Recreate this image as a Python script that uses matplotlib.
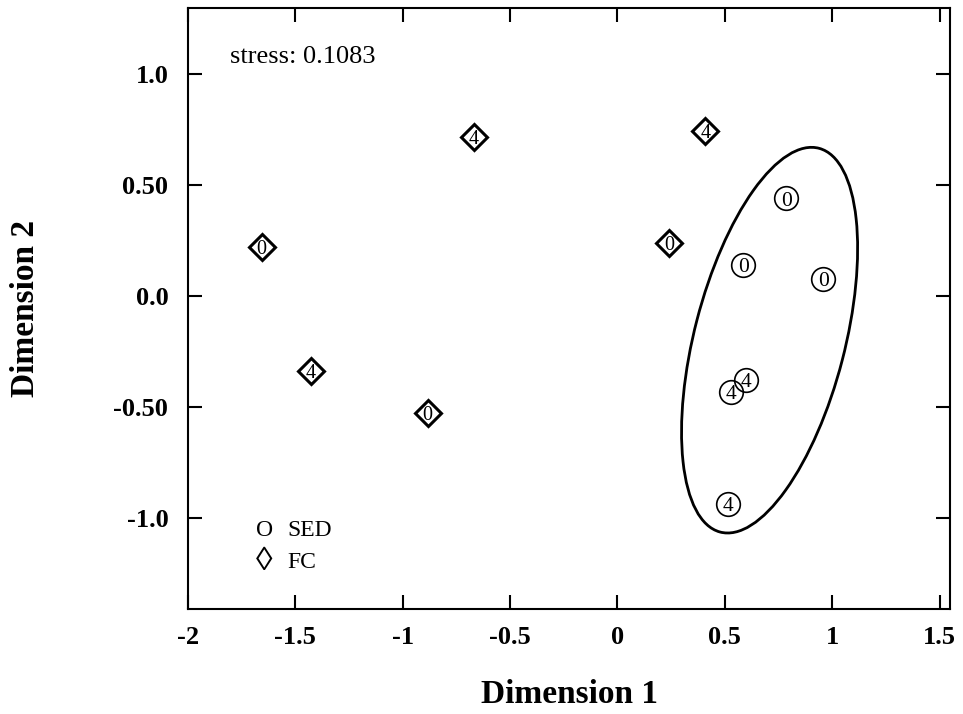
import matplotlib
matplotlib.use("Agg")
import matplotlib.pyplot as plt
from matplotlib.patches import Ellipse

plt.rcParams['font.family'] = ['Liberation Serif', 'DejaVu Serif']

# FC group (diamonds)
fc_x = [-1.656, -1.428, -0.884, -0.670, 0.242, 0.409]
fc_y = [0.220, -0.338, -0.527, 0.716, 0.239, 0.743]
fc_lab = ["0", "4", "0", "4", "0", "4"]

# SED group (circles)
sed_x = [0.786, 0.586, 0.958, 0.600, 0.530, 0.516]
sed_y = [0.441, 0.140, 0.077, -0.378, -0.432, -0.937]
sed_lab = ["0", "0", "0", "4", "4", "4"]

xticks = [-2, -1.5, -1, -0.5, 0, 0.5, 1, 1.5]
xtick_labels = ["-2", "-1.5", "-1", "-0.5", "0", "0.5", "1", "1.5"]
yticks = [-1.0, -0.5, 0.0, 0.5, 1.0]
ytick_labels = ["-1.0", "-0.50", "0.0", "0.50", "1.0"]

stress_text = "stress: 0.1083"

fig = plt.figure(figsize=(9.63, 7.14), dpi=100)
ax = fig.add_axes([0.195, 0.147, 0.792, 0.842])

ax.plot(fc_x, fc_y, linestyle='none', marker='D', markersize=13,
        markerfacecolor='white', markeredgecolor='black', markeredgewidth=2.2, zorder=3)
for x, y, t in zip(fc_x, fc_y, fc_lab):
    ax.annotate(t, (x, y), xytext=(0, -4.8), textcoords='offset points',
                ha='center', va='baseline', fontsize=14.5, zorder=4)

ax.plot(sed_x, sed_y, linestyle='none', marker='o', markersize=17,
        markerfacecolor='none', markeredgecolor='black', markeredgewidth=1.2, zorder=3)
for x, y, t in zip(sed_x, sed_y, sed_lab):
    ax.annotate(t, (x, y), xytext=(0, -5.2), textcoords='offset points',
                ha='center', va='baseline', fontsize=15.5, zorder=4)

ell = Ellipse((0.708, -0.198), width=1.79, height=0.70, angle=75.0,
              fill=False, edgecolor='black', linewidth=2.0, zorder=2)
ax.add_patch(ell)

ax.set_xlim(-2, 1.55)
ax.set_ylim(-1.41, 1.30)
ax.set_xticks(xticks)
ax.set_xticklabels(xtick_labels)
ax.set_yticks(yticks)
ax.set_yticklabels(ytick_labels)
ax.tick_params(direction='in', length=10, width=1.5, top=True, right=True,
               labelsize=19, pad=12)
for lab in ax.get_xticklabels() + ax.get_yticklabels():
    lab.set_fontweight('bold')
ax.tick_params(axis='y', pad=14)
for s in ax.spines.values():
    s.set_linewidth(1.5)

ax.set_xlabel("Dimension 1", fontsize=24, fontweight='bold', labelpad=22)
ax.set_ylabel("Dimension 2", fontsize=24, fontweight='bold', labelpad=52)

ax.text(0.055, 0.918, stress_text, transform=ax.transAxes, fontsize=19,
        ha='left', va='center')

ax.text(0.09, 0.131, "O", transform=ax.transAxes, fontsize=17, ha='left', va='center')
ax.text(0.13, 0.131, "SED", transform=ax.transAxes, fontsize=17, ha='left', va='center')
ax.text(0.089, 0.078, "\u25CA", transform=ax.transAxes, fontsize=24, ha='left', va='center')
ax.text(0.13, 0.078, "FC", transform=ax.transAxes, fontsize=17, ha='left', va='center')

fig.savefig("out.png", dpi=100)
